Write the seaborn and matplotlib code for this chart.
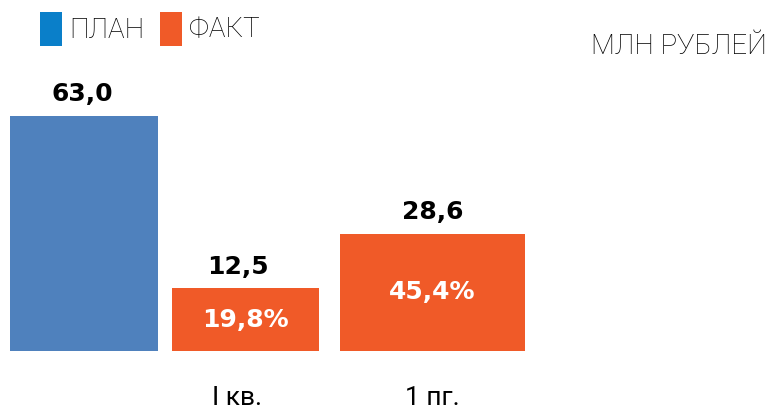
import matplotlib
matplotlib.use("Agg")
import matplotlib.pyplot as plt
import seaborn as sns
import pandas as pd
from matplotlib.patches import Rectangle

# ---- data ----
categories = ["ПЛАН", "I кв.", "1 пг."]
series = ["ПЛАН", "ФАКТ", "ФАКТ"]
values = [63.0, 12.5, 28.6]
value_labels = ["63,0", "12,5", "28,6"]
pct_labels = [None, "19,8%", "45,4%"]
tick_labels = ["", "I кв.", "1 пг."]
legend_labels = ["ПЛАН", "ФАКТ"]
unit_label = "МЛН РУБЛЕЙ"

# ---- style ----
bar_colors = {"ПЛАН": "#4F81BD", "ФАКТ": "#F05A28"}
legend_colors = ["#0A7FC9", "#F05A28"]
W, H = 770, 413
bar_left = [10, 172, 340]      # layout, pixels
bar_width = [148, 147, 185]    # layout, pixels
label_shift = [-2, -8, 0]      # layout, pixels (label offset from bar centre)
base = -5.8                    # visual baseline of the bars
px_per_unit = 235 / (63.0 - base)
bottom_px = 62                 # baseline distance from bottom of figure

sns.set_theme(style="white")
rob = ["Roboto", "DejaVu Sans"]
plt.rcParams["font.family"] = ["DejaVu Sans"]

fig = plt.figure(figsize=(W / 100, H / 100), dpi=100)
ax = fig.add_axes([0, 0, 1, 1])

df = pd.DataFrame({"cat": categories, "value": values, "series": series})
sns.barplot(data=df, x="cat", y="value", hue="series", palette=bar_colors,
            dodge=False, legend=False, ax=ax, saturation=1, linewidth=0)

ylo = base - bottom_px / px_per_unit
yhi = ylo + H / px_per_unit
ax.set_ylim(ylo, yhi)
ax.set_xlim(0, W)
ax.set_axis_off()

bars = sorted([p for p in ax.patches if isinstance(p, Rectangle) and p.get_height() != 0],
              key=lambda p: p.get_x())
for i, p in enumerate(bars):
    v = values[i]
    p.set_x(bar_left[i])
    p.set_width(bar_width[i])
    p.set_y(base)
    p.set_height(v - base)
    p.set_linewidth(0)
    cx = bar_left[i] + bar_width[i] / 2
    ax.text(cx + label_shift[i], v + 2.8, value_labels[i], ha="center", va="bottom",
            fontsize=18, fontweight="bold", color="black")
    if pct_labels[i]:
        ax.text(cx, (v + base) / 2, pct_labels[i], ha="center", va="center",
                fontsize=18, fontweight="bold", color="white")
    if tick_labels[i]:
        ax.text(cx + label_shift[i], ylo + 3 / px_per_unit, tick_labels[i],
                ha="center", va="bottom", fontsize=19, family=rob, color="black")

# legend
for j, (lab, col) in enumerate(zip(legend_labels, legend_colors)):
    x0 = 40 + j * 120
    fig.patches.append(Rectangle((x0 / W, 1 - 46 / H), 22 / W, 34 / H,
                                 transform=fig.transFigure, color=col, linewidth=0))
    fig.text((x0 + 29) / W, 1 - 30 / H, lab, ha="left", va="center",
             fontsize=20, family=rob, fontweight="light", color="black")

fig.text(767 / W, 1 - 47 / H, unit_label, ha="right", va="center",
         fontsize=20, family=rob, fontweight="light", color="black")

fig.savefig("out.png", dpi=100)
